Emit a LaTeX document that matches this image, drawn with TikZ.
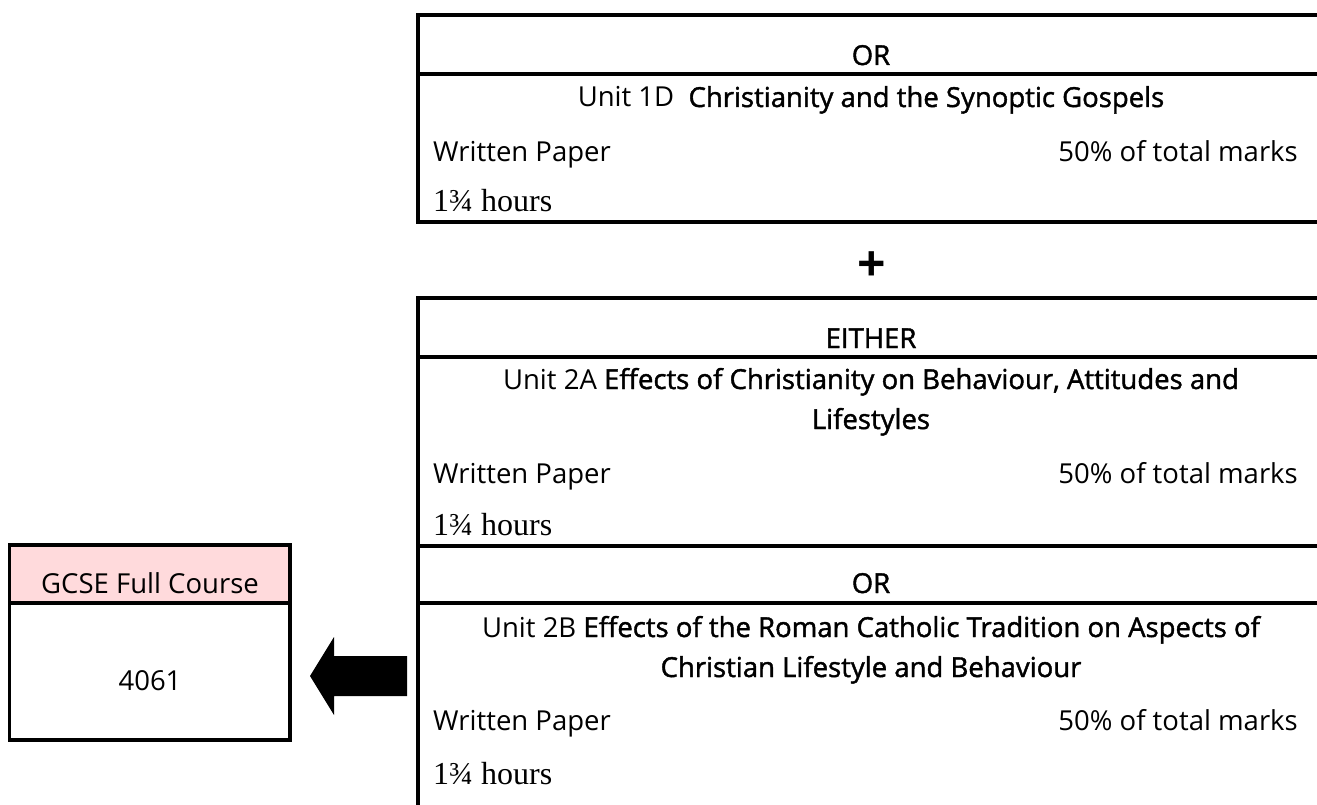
\documentclass[tikz,border=0pt]{standalone}
\usepackage{fontspec}
\setmainfont{Open Sans}
\newfontfamily\semib[FakeBold=1.5]{Open Sans}
\newfontfamily\hoursfont{Liberation Serif}
\definecolor{pinkfill}{RGB}{255,218,220}
\begin{document}
\begin{tikzpicture}[x=1pt, y=-1pt,
  rule/.style={line width=3.2pt},
  txt/.style={anchor=base, inner sep=0pt, font=\fontsize{27.5}{40}\selectfont},
  head/.style={txt, font=\semib\fontsize{27.5}{40}\selectfont},
  hrs/.style={anchor=base west, inner sep=0pt, font=\hoursfont\fontsize{32}{36}\selectfont}]
  \useasboundingbox (0,0) rectangle (1317,805);
  % top unit
  \draw[rule] (1317,15) -- (418,15) -- (418,222) -- (1317,222);
  \draw[rule] (418,74) -- (1317,74);
  \node[head] (or1) at (871,65) {OR};
  \node[txt] (unit1d) at (871,107) {Unit 1D\ \ {\semib Christianity and the Synoptic Gospels}};
  \node[txt, anchor=base west] (paper1) at (433,162) {Written Paper};
  \node[txt, anchor=base east] (marks1) at (1298,162) {50\% of total marks};
  \node[hrs] (hours1) at (433,212) {1¾ hours};
  \node[font=\fontsize{50}{50}\selectfont\bfseries, inner sep=0pt] (plus) at (872,267) {+};
  % second unit
  \draw[rule] (1317,298) -- (418,298) -- (418,805);
  \draw[rule] (418,357) -- (1317,357);
  \draw[rule] (418,546) -- (1317,546);
  \draw[rule] (418,603) -- (1317,603);
  \node[head] (either) at (871,348) {EITHER};
  \node[txt, align=center] (unit2a) at (871,429) {Unit 2A {\semib Effects of Christianity on Behaviour, Attitudes and}\\{\semib Lifestyles}};
  \node[txt, anchor=base west] (paper2a) at (433,483) {Written Paper};
  \node[txt, anchor=base east] (marks2a) at (1298,483) {50\% of total marks};
  \node[hrs] (hours2a) at (433,535) {1¾ hours};
  \node[head] (or2) at (871,593) {OR};
  \node[txt, align=center] (unit2b) at (871,677) {Unit 2B {\semib Effects of the Roman Catholic Tradition on Aspects of}\\{\semib Christian Lifestyle and Behaviour}};
  \node[txt, anchor=base west] (paper2b) at (433,730) {Written Paper};
  \node[txt, anchor=base east] (marks2b) at (1298,730) {50\% of total marks};
  \node[hrs] (hours2b) at (433,784) {1¾ hours};
  % course box
  \draw[rule, fill=pinkfill] (9.5,545) rectangle (290,603);
  \draw[rule] (9.5,603) rectangle (290,740);
  \node[txt] (gcse) at (150,593) {GCSE Full Course};
  \node[txt] (code) at (150,690) {4061};
  % arrow
  \coordinate (tail) at (407,676);
  \fill (tail) ++(0,-20) -- ++(-73,0) -- ++(0,-19) -- ++(-24,39) -- ++(24,39) -- ++(0,-19) -- ++(73,0) -- cycle;
\end{tikzpicture}
\end{document}
